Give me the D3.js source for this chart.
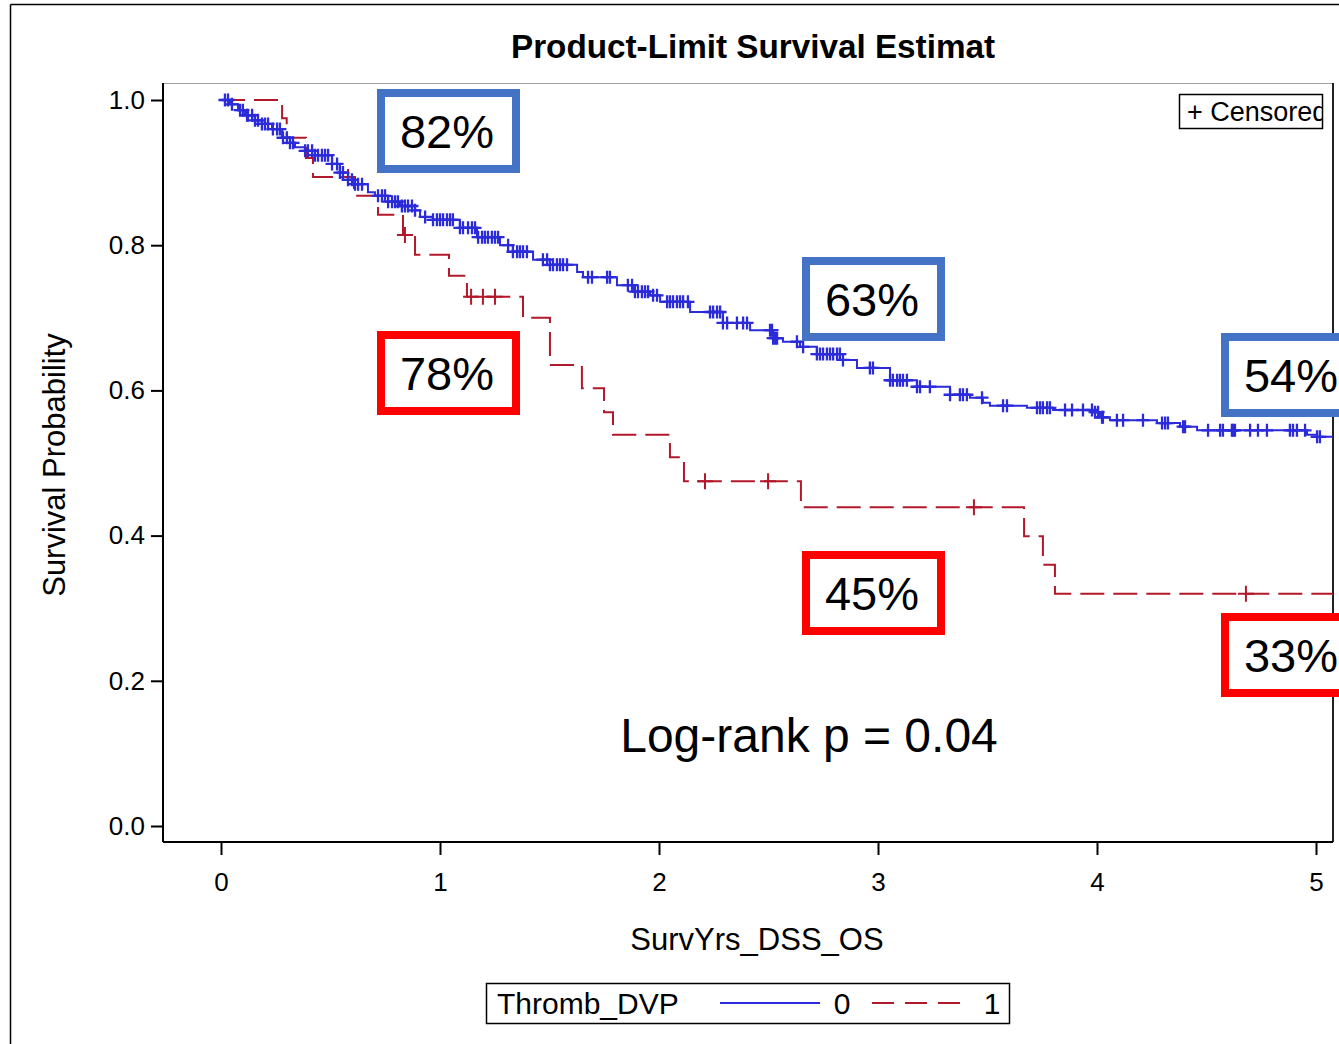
<!DOCTYPE html>
<html><head><meta charset="utf-8">
<script src="https://cdn.jsdelivr.net/npm/d3@7"></script>
<style>html,body{margin:0;padding:0;background:#fff}svg{display:block}</style>
</head><body><div id="chart"></div>
<script>
// ---------------- data ----------------
const chartTitle = "Product-Limit Survival Estimat";
const xTicks = [0, 1, 2, 3, 4, 5];
const yTicks = [0.0, 0.2, 0.4, 0.6, 0.8, 1.0];
const groupLabels = ["0", "1"];
const legendTitle = "Thromb_DVP";

// group 0 (blue): step times and survival after each event
const blueTimes = [0,0.041,0.078,0.110,0.155,0.187,0.233,0.279,0.315,0.338,0.384,0.429,0.507,0.543,0.580,0.612,0.671,0.703,0.763,0.817,0.886,0.909,0.968,1.091,1.169,1.274,1.333,1.425,1.502,1.626,1.653,1.808,1.881,1.959,2.005,2.142,2.292,2.416,2.521,2.566,2.644,2.721,2.840,2.904,3.055,3.178,3.329,3.420,3.479,3.511,3.680,3.799,3.982,4.014,4.059,4.274,4.379,4.457,4.959,5.005];
const blueSurv  = [1,0.994,0.986,0.979,0.972,0.967,0.960,0.948,0.941,0.935,0.930,0.924,0.912,0.900,0.890,0.884,0.873,0.868,0.860,0.854,0.848,0.839,0.835,0.824,0.811,0.800,0.791,0.780,0.773,0.763,0.756,0.745,0.736,0.731,0.722,0.708,0.693,0.683,0.672,0.667,0.660,0.650,0.642,0.631,0.614,0.605,0.594,0.590,0.583,0.579,0.576,0.573,0.570,0.563,0.559,0.555,0.550,0.545,0.539,0.536];
const blueCensor = [0.018,0.032,0.050,0.087,0.100,0.119,0.123,0.142,0.155,0.169,0.187,0.201,0.215,0.237,0.256,0.269,0.283,0.301,0.315,0.329,0.384,0.397,0.416,0.429,0.443,0.461,0.475,0.489,0.507,0.530,0.543,0.557,0.580,0.598,0.612,0.626,0.644,0.717,0.735,0.749,0.763,0.781,0.795,0.808,0.826,0.840,0.854,0.872,0.886,0.932,0.968,0.986,1.000,1.014,1.032,1.046,1.059,1.091,1.105,1.128,1.146,1.160,1.174,1.192,1.205,1.219,1.237,1.251,1.265,1.311,1.333,1.352,1.365,1.379,1.397,1.470,1.489,1.502,1.516,1.534,1.548,1.562,1.580,1.676,1.694,1.763,1.776,1.858,1.877,1.890,1.904,1.922,1.936,1.950,1.973,1.991,2.037,2.050,2.064,2.082,2.096,2.110,2.132,2.233,2.247,2.265,2.279,2.292,2.311,2.356,2.384,2.402,2.507,2.516,2.521,2.530,2.539,2.630,2.658,2.721,2.735,2.749,2.767,2.781,2.795,2.813,2.826,2.840,2.963,2.977,3.055,3.068,3.087,3.100,3.114,3.132,3.178,3.192,3.237,3.329,3.374,3.388,3.406,3.475,3.571,3.589,3.726,3.740,3.753,3.772,3.785,3.854,3.886,3.936,3.977,3.991,4.005,4.023,4.027,4.091,4.119,4.210,4.297,4.311,4.324,4.393,4.402,4.507,4.562,4.575,4.616,4.621,4.630,4.699,4.735,4.776,4.881,4.895,4.913,4.950,5.005,5.018];

// group 1 (red)
const redTimes = [0,0.279,0.300,0.388,0.420,0.607,0.717,0.831,0.886,1.041,1.123,1.379,1.502,1.648,1.749,1.790,2.050,2.114,2.648,3.667,3.753,3.808];
const redSurv  = [1,0.975,0.948,0.920,0.894,0.868,0.842,0.814,0.787,0.758,0.729,0.700,0.635,0.603,0.570,0.539,0.508,0.475,0.439,0.399,0.360,0.320];
const redCensor = [0.58,0.84,1.142,1.196,1.251,2.21,2.498,3.438,4.68];

// annotations
const blueLabels = ["82%", "63%", "54%"];
const redLabels  = ["78%", "45%", "33%"];
const pValueText = "Log-rank p = 0.04";
const censorLabel = "+ Censored";

// ---------------- layout ----------------
const W = 1339, H = 1044;
const BLUE = "#2b2bd9", RED = "#b2182b";
const FONT = "'Liberation Sans', Arial, Helvetica, sans-serif";
const svg = d3.select("#chart").append("svg").attr("width", W).attr("height", H)
  .style("font-family", FONT);
svg.append("rect").attr("width", W).attr("height", H).attr("fill", "#fff");

// outer frame
svg.append("line").attr("x1", 10.5).attr("x2", W).attr("y1", 4.5).attr("y2", 4.5).attr("stroke", "#000").attr("stroke-width", 1.5);
svg.append("line").attr("x1", 10.5).attr("x2", 10.5).attr("y1", 4.5).attr("y2", H).attr("stroke", "#000").attr("stroke-width", 1.5);

const plot = {left: 163, right: 1333, top: 83, bottom: 842};
const x = d3.scaleLinear().domain([0, 5]).range([221, 1316]);
const y = d3.scaleLinear().domain([0, 1]).range([826, 100]);
const xEnd = x.invert(plot.right);

// title
svg.append("text").attr("x", 753).attr("y", 58).attr("text-anchor", "middle")
  .style("font-family", "'Liberation Sans Narrow', 'Liberation Sans', Arial, sans-serif")
  .style("font-weight", "bold").style("font-size", "33px")
  .attr("textLength", 484).attr("lengthAdjust", "spacingAndGlyphs")
  .text(chartTitle);

// plot walls
svg.append("line").attr("x1", plot.left).attr("x2", plot.right).attr("y1", plot.top + 0.5).attr("y2", plot.top + 0.5).attr("stroke", "#a0a0a0").attr("stroke-width", 1.2);
svg.append("line").attr("x1", plot.right).attr("x2", plot.right).attr("y1", plot.top).attr("y2", plot.bottom).attr("stroke", "#222").attr("stroke-width", 2);

// axes
const yAxis = d3.axisLeft(y).tickValues(yTicks).tickFormat(d3.format(".1f")).tickSize(12).tickPadding(6);
const gy = svg.append("g").attr("transform", `translate(${plot.left},0)`).call(yAxis);
gy.select(".domain").attr("d", `M0,${plot.top}V${plot.bottom}`).attr("stroke", "#000").attr("stroke-width", 2);
gy.selectAll(".tick line").attr("stroke", "#000").attr("stroke-width", 2);
gy.selectAll(".tick text").style("font-size", "26px").style("font-family", FONT).attr("fill", "#000");

const xAxis = d3.axisBottom(x).tickValues(xTicks).tickFormat(d3.format("d")).tickSize(13).tickPadding(18);
const gx = svg.append("g").attr("transform", `translate(0,${plot.bottom})`).call(xAxis);
gx.select(".domain").attr("d", `M${plot.left},0H${plot.right}`).attr("stroke", "#000").attr("stroke-width", 2);
gx.selectAll(".tick line").attr("stroke", "#000").attr("stroke-width", 2);
gx.selectAll(".tick text").style("font-size", "26px").style("font-family", FONT).attr("fill", "#000");

// axis labels
svg.append("text").attr("transform", "translate(65,465) rotate(-90)").attr("text-anchor", "middle")
  .style("font-size", "31px").text("Survival Probability");
svg.append("text").attr("x", 757).attr("y", 950).attr("text-anchor", "middle")
  .style("font-size", "31px").text("SurvYrs_DSS_OS");

// clip for curves
svg.append("clipPath").attr("id", "plotclip").append("rect")
  .attr("x", plot.left).attr("y", plot.top).attr("width", plot.right - plot.left).attr("height", plot.bottom - plot.top);
const gPlot = svg.append("g").attr("clip-path", "url(#plotclip)");

function stepData(times, surv) {
  const pts = times.map((t, i) => [t, surv[i]]);
  pts.push([xEnd, surv[surv.length - 1]]);
  return pts;
}
function survAt(times, surv, t) {
  let s = surv[0];
  for (let i = 0; i < times.length; i++) { if (times[i] <= t) s = surv[i]; else break; }
  return s;
}
const line = d3.line().x(d => x(d[0])).y(d => y(d[1])).curve(d3.curveStepAfter);

// red curve
gPlot.append("path").datum(stepData(redTimes, redSurv)).attr("d", line)
  .attr("fill", "none").attr("stroke", RED).attr("stroke-width", 2).attr("stroke-dasharray", "24,9");
// blue curve
gPlot.append("path").datum(stepData(blueTimes, blueSurv)).attr("d", line)
  .attr("fill", "none").attr("stroke", BLUE).attr("stroke-width", 2);

function censorMarks(times, surv, cens, color, size, sw) {
  gPlot.append("g").selectAll("path").data(cens).join("path")
    .attr("d", t => {
      const cx = x(t), cy = y(survAt(times, surv, t)), h = size / 2;
      return `M${cx - h},${cy}H${cx + h}M${cx},${cy - h}V${cy + h}`;
    })
    .attr("stroke", color).attr("stroke-width", sw).attr("fill", "none");
}
censorMarks(redTimes, redSurv, redCensor, RED, 16, 2);
censorMarks(blueTimes, blueSurv, blueCensor, BLUE, 13, 2.3);

// censored legend box (inside plot)
svg.append("clipPath").attr("id", "censclip").append("rect").attr("x", 1179).attr("y", 94).attr("width", 143).attr("height", 35);
svg.append("rect").attr("x", 1179.5).attr("y", 94.5).attr("width", 143).attr("height", 34)
  .attr("fill", "#fff").attr("stroke", "#000").attr("stroke-width", 1.5);
svg.append("text").attr("clip-path", "url(#censclip)").attr("x", 1187).attr("y", 121)
  .style("font-size", "27px").text(censorLabel);

// percent annotation boxes
const boxes = [
  {label: blueLabels[0], color: "#4472c4", x0: 377, y0: 89},
  {label: blueLabels[1], color: "#4472c4", x0: 802, y0: 257},
  {label: blueLabels[2], color: "#4472c4", x0: 1221, y0: 333},
  {label: redLabels[0],  color: "#ff0000", x0: 377, y0: 331},
  {label: redLabels[1],  color: "#ff0000", x0: 802, y0: 551},
  {label: redLabels[2],  color: "#ff0000", x0: 1221, y0: 613}
];
const bw = 143, bh = 84, bs = 8;
const gb = svg.append("g").selectAll("g").data(boxes).join("g");
gb.append("rect").attr("x", d => d.x0 + bs / 2).attr("y", d => d.y0 + bs / 2)
  .attr("width", bw - bs).attr("height", bh - bs)
  .attr("fill", "#fff").attr("stroke", d => d.color).attr("stroke-width", bs);
gb.append("text").attr("x", d => d.x0 + bw / 2 - 1.5).attr("y", d => d.y0 + bh / 2 + 17)
  .attr("text-anchor", "middle").style("font-size", "47px").attr("fill", "#000").text(d => d.label);

// log-rank text
svg.append("text").attr("x", 809).attr("y", 752).attr("text-anchor", "middle")
  .style("font-size", "48px").text(pValueText);

// group legend
svg.append("rect").attr("x", 486.5).attr("y", 983.5).attr("width", 523).attr("height", 40)
  .attr("fill", "#fff").attr("stroke", "#000").attr("stroke-width", 1.5);
svg.append("text").attr("x", 497).attr("y", 1014).style("font-size", "30px").text(legendTitle);
svg.append("line").attr("x1", 720).attr("x2", 820).attr("y1", 1003).attr("y2", 1003).attr("stroke", BLUE).attr("stroke-width", 2);
svg.append("text").attr("x", 842).attr("y", 1014).attr("text-anchor", "middle").style("font-size", "30px").text(groupLabels[0]);
svg.append("line").attr("x1", 872).attr("x2", 965).attr("y1", 1003).attr("y2", 1003).attr("stroke", RED).attr("stroke-width", 2).attr("stroke-dasharray", "22,11");
svg.append("text").attr("x", 992).attr("y", 1014).attr("text-anchor", "middle").style("font-size", "30px").text(groupLabels[1]);
</script></body></html>
